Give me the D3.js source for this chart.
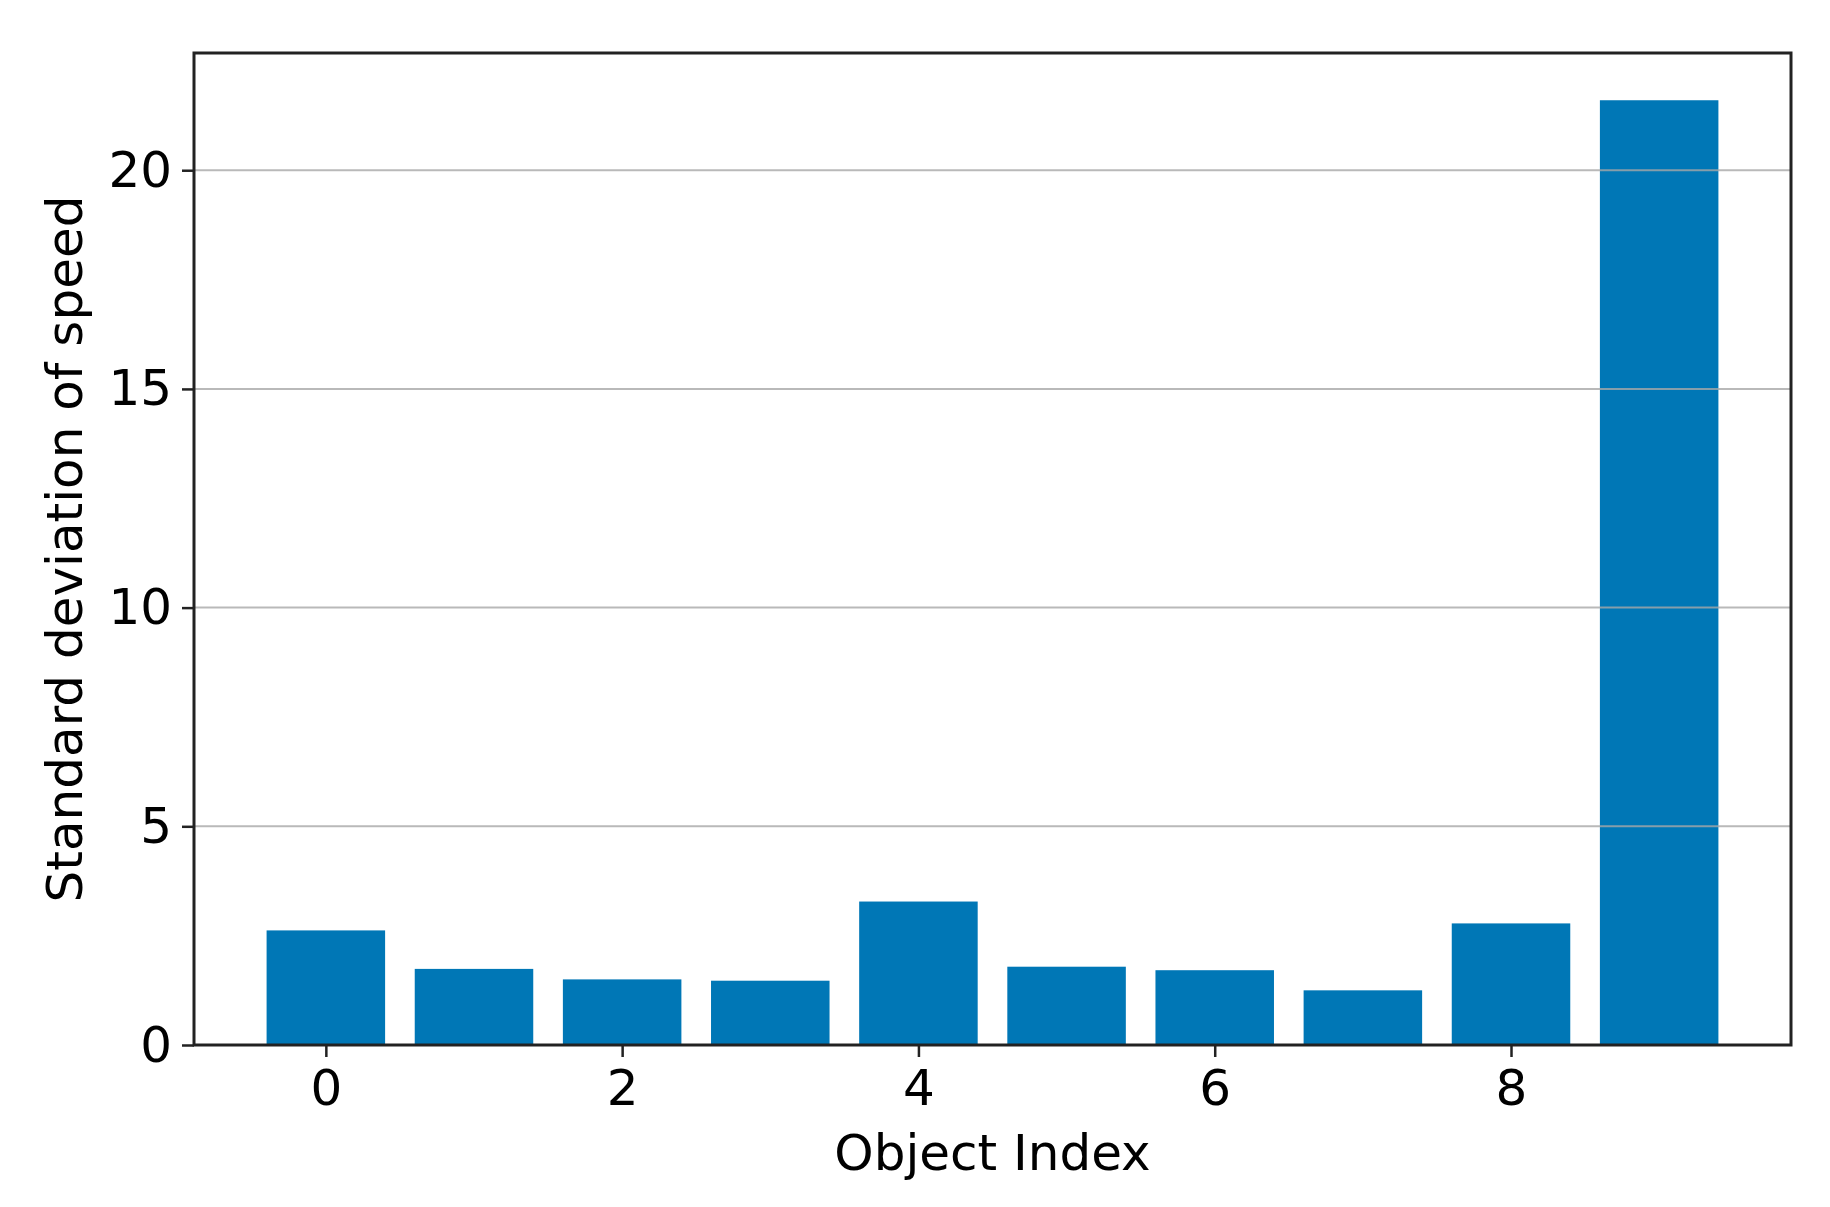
<!DOCTYPE html>
<html>
<head>
<meta charset="utf-8">
<script src="https://cdn.jsdelivr.net/npm/d3@7"></script>
<style>
  body { margin: 0; background: #fff; }
  text { font-family: "DejaVu Sans", sans-serif; }
</style>
</head>
<body>
<div id="wrapper"></div>
<script>
// values
const objectIndex = [0, 1, 2, 3, 4, 5, 6, 7, 8, 9];
const stdSpeed = [2.62, 1.74, 1.50, 1.47, 3.28, 1.79, 1.71, 1.25, 2.78, 21.6];
const xTicks = [0, 2, 4, 6, 8];
const yTicks = [0, 5, 10, 15, 20];

function buildPlot() {
    const dimension = {
        width: 1830,
        height: 1207,
        margin: { top: 53, left: 194, bottom: 162, right: 39 }
    };
    dimension.boundedWidth = dimension.width - dimension.margin.left - dimension.margin.right;
    dimension.boundedHeight = dimension.height - dimension.margin.top - dimension.margin.bottom;

    const barWidth = 0.8;
    const fontSize = 50;

    const svg = d3.select("#wrapper").append("svg")
        .attr("width", dimension.width)
        .attr("height", dimension.height);

    const bounds = svg.append("g")
        .attr("transform", `translate(${dimension.margin.left},${dimension.margin.top})`);

    // matplotlib-like 5% margins around the bars
    const xMin = -barWidth / 2, xMax = objectIndex.length - 1 + barWidth / 2;
    const xPad = (xMax - xMin) * 0.05;
    const xScaler = d3.scaleLinear()
        .domain([xMin - xPad, xMax + xPad])
        .range([0, dimension.boundedWidth]);

    const yScaler = d3.scaleLinear()
        .domain([0, d3.max(stdSpeed) * 1.05])
        .range([dimension.boundedHeight, 0]);

    // bars
    bounds.append("g").selectAll("rect")
        .data(objectIndex)
        .enter()
        .append("rect")
        .attr("x", (d) => xScaler(d - barWidth / 2))
        .attr("width", (d) => xScaler(barWidth) - xScaler(0))
        .attr("y", (d, i) => yScaler(stdSpeed[i]))
        .attr("height", (d, i) => yScaler(0) - yScaler(stdSpeed[i]))
        .attr("fill", "#0077b6");

    // horizontal grid, drawn over bars
    bounds.append("g").selectAll("line")
        .data(yTicks.filter((t) => t > 0))
        .enter()
        .append("line")
        .attr("x1", 0)
        .attr("x2", dimension.boundedWidth)
        .attr("y1", (d) => yScaler(d))
        .attr("y2", (d) => yScaler(d))
        .attr("stroke", "#a8a8a8")
        .attr("stroke-opacity", 0.8)
        .attr("stroke-width", 2);

    const yAxis = bounds.append("g")
        .call(d3.axisLeft(yScaler).tickValues(yTicks).tickSize(12).tickPadding(10));

    const xAxis = bounds.append("g")
        .attr("transform", `translate(0,${dimension.boundedHeight})`)
        .call(d3.axisBottom(xScaler).tickValues(xTicks).tickSize(12).tickPadding(12));

    [xAxis, yAxis].forEach((ax) => {
        ax.select(".domain").remove();
        ax.selectAll(".tick line").attr("stroke", "#222").attr("stroke-width", 2.5);
        ax.selectAll(".tick text")
            .attr("fill", "#000")
            .style("font-size", fontSize + "px")
            .style("font-family", "'DejaVu Sans', sans-serif");
    });

    // frame
    bounds.append("rect")
        .attr("x", 0)
        .attr("y", 0)
        .attr("width", dimension.boundedWidth)
        .attr("height", dimension.boundedHeight)
        .attr("fill", "none")
        .attr("stroke", "#222")
        .attr("stroke-width", 3);

    svg.append("text")
        .attr("x", dimension.margin.left + dimension.boundedWidth / 2)
        .attr("y", 1170)
        .attr("text-anchor", "middle")
        .attr("fill", "#000")
        .style("font-size", fontSize + "px")
        .text("Object Index");

    svg.append("text")
        .attr("transform", `translate(82,${dimension.margin.top + dimension.boundedHeight / 2}) rotate(-90)`)
        .attr("text-anchor", "middle")
        .attr("fill", "#000")
        .style("font-size", fontSize + "px")
        .text("Standard deviation of speed");
}

buildPlot();
</script>
</body>
</html>
